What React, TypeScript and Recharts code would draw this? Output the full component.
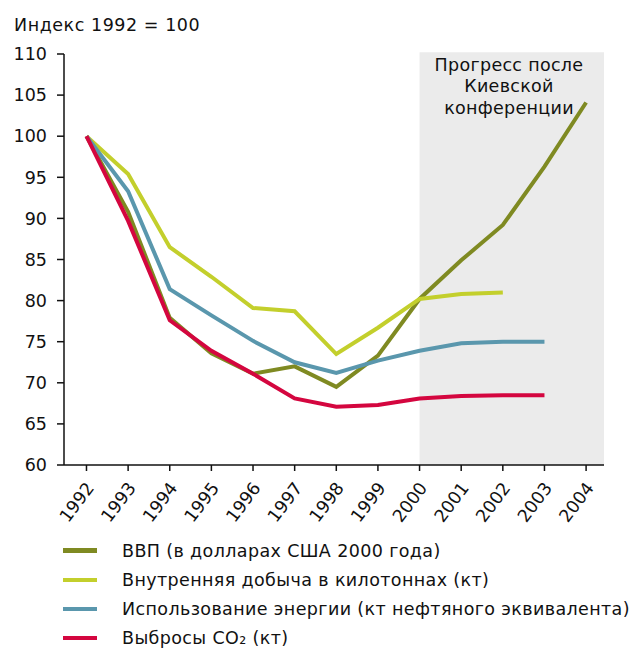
import React from "react";
import { LineChart, Line, XAxis, YAxis, ReferenceArea } from "recharts";

const years = [1992, 1993, 1994, 1995, 1996, 1997, 1998, 1999, 2000, 2001, 2002, 2003, 2004];
const gdp = [100, 90.8, 77.9, 73.6, 71.1, 72.0, 69.5, 73.3, 80.2, 84.9, 89.2, 96.3, 104.1];
const production = [100, 95.4, 86.5, 82.9, 79.1, 78.7, 73.5, 76.7, 80.2, 80.8, 81.0, null, null];
const energy = [100, 93.3, 81.4, 78.2, 75.1, 72.5, 71.2, 72.7, 73.9, 74.8, 75.0, 75.0, null];
const co2 = [100, 89.7, 77.6, 73.9, 71.1, 68.1, 67.1, 67.3, 68.1, 68.4, 68.5, 68.5, null];
const yTicks = [60, 65, 70, 75, 80, 85, 90, 95, 100, 105, 110];

const seriesNames = [
  "ВВП (в долларах США 2000 года)",
  "Внутренняя добыча в килотоннах (кт)",
  "Использование энергии (кт нефтяного эквивалента)",
  "Выбросы CO₂ (кт)",
];
const seriesKeys = ["gdp", "production", "energy", "co2"];
const seriesColors = ["#7f8a22", "#c3cf2c", "#5a97ad", "#d4063f"];
const titleText = "Индекс 1992 = 100";
const annotationLines = ["Прогресс после", "Киевской", "конференции"];

const data = years.map((y, i) => ({
  year: y,
  gdp: gdp[i],
  production: production[i],
  energy: energy[i],
  co2: co2[i],
}));

const FONT = "'DejaVu Sans', Verdana, sans-serif";

const XTick = (props: any) => {
  const { x, y, payload } = props;
  const ex = x + 8.5;
  const ey = y + 15;
  return (
    <text
      x={ex}
      y={ey}
      transform={`rotate(-53, ${ex}, ${ey})`}
      textAnchor="end"
      fontSize={17.5}
      fontFamily={FONT}
      fill="#111"
    >
      {payload.value}
    </text>
  );
};

export default function App() {
  return (
    <div style={{ position: "absolute", left: 0, top: 0, width: 633, height: 648, fontFamily: FONT, background: "#fff", overflow: "hidden" }}>
      <div style={{ position: "absolute", left: 14, top: 15, fontSize: 17.5, letterSpacing: 0.55, color: "#111", lineHeight: "20px", whiteSpace: "nowrap" }}>{titleText}</div>
      <LineChart
        width={633}
        height={530}
        data={data}
        margin={{ top: 54, right: 29, bottom: 0, left: 0 }}
      >
        <ReferenceArea
          x1={2000}
          x2={2004.43}
          y1={60}
          y2={110.2}
          fill="#ebebeb"
          fillOpacity={1}
          stroke="none"
          ifOverflow="visible"
        />
        <XAxis
          dataKey="year"
          type="number"
          domain={[1991.46, 2004.43]}
          ticks={years}
          interval={0}
          allowDataOverflow
          height={65}
          tickSize={6}
          tick={<XTick />}
          axisLine={{ stroke: "#111", strokeWidth: 1.5 }}
          tickLine={{ stroke: "#111", strokeWidth: 1.5 }}
        />
        <YAxis
          type="number"
          domain={[60, 110]}
          ticks={yTicks}
          interval={0}
          width={64}
          tickSize={7}
          tickMargin={10}
          tick={{ fontSize: 17.5, fontFamily: FONT, fill: "#111" }}
          axisLine={{ stroke: "#111", strokeWidth: 1.5 }}
          tickLine={{ stroke: "#111", strokeWidth: 1.5 }}
        />
        {seriesKeys.map((k, i) => (
          <Line
            key={k}
            dataKey={k}
            stroke={seriesColors[i]}
            strokeWidth={4}
            dot={false}
            activeDot={false}
            isAnimationActive={false}
            type="linear"
          />
        ))}
      </LineChart>
      <div style={{ position: "absolute", left: 417, width: 184, top: 55, textAlign: "center", fontSize: 17.5, letterSpacing: 0.3, lineHeight: "21.3px", color: "#111" }}>
        {annotationLines.map((l) => (
          <div key={l}>{l}</div>
        ))}
      </div>
      <div style={{ position: "absolute", left: 63, top: 536 }}>
        {seriesNames.map((n, i) => (
          <div key={n} style={{ display: "flex", alignItems: "center", height: 29.2 }}>
            <div style={{ width: 34, height: 4.5, background: seriesColors[i], marginRight: 25 }} />
            <div style={{ fontSize: 17.5, letterSpacing: 0.38, color: "#111", whiteSpace: "nowrap" }}>{n}</div>
          </div>
        ))}
      </div>
    </div>
  );
}
